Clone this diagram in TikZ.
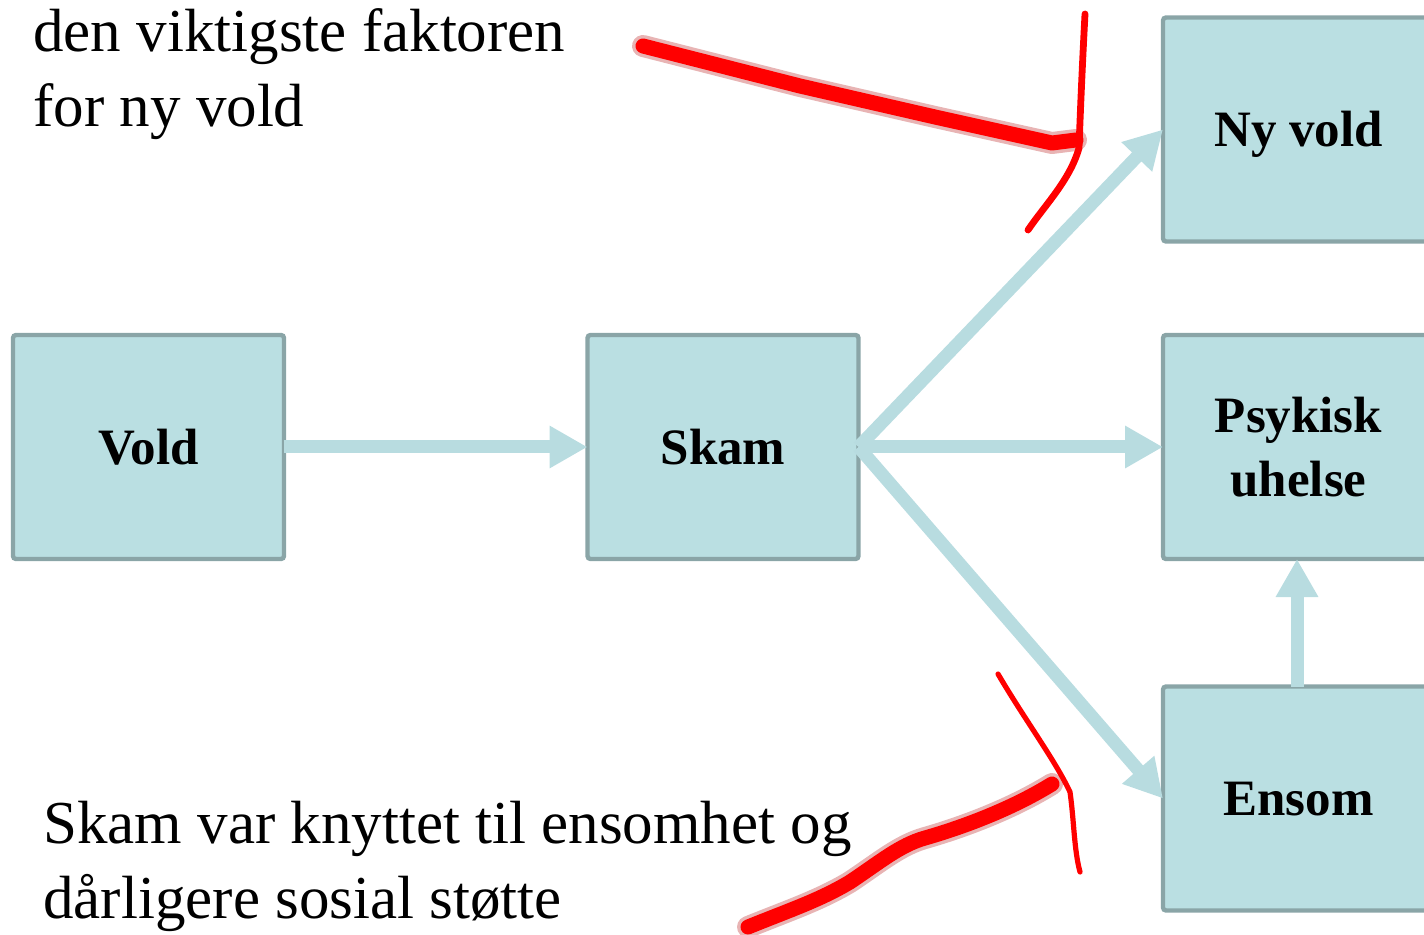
\documentclass[tikz,border=0pt]{standalone}
\usepackage{fontspec}
\setmainfont{Liberation Serif}
\usetikzlibrary{arrows.meta}
\definecolor{boxfill}{HTML}{BADFE2}
\definecolor{boxline}{HTML}{8AA5A7}
\definecolor{arrowc}{HTML}{B8DCE0}
\definecolor{halo}{HTML}{E8B4B4}
\tikzset{
  box/.style={draw=boxline, fill=boxfill, line width=2.2pt, rounded corners=1.5pt,
    minimum width=135.5pt, minimum height=112pt, inner sep=0pt, outer sep=0pt,
    font=\bfseries\fontsize{25.5}{32}\selectfont, align=center, text height=17.3pt, text depth=0pt},
  flow/.style={draw=arrowc, line width=6.5pt, -{Triangle[length=19pt,width=20pt]}},
  caption/.style={anchor=base west, inner sep=0pt, font=\fontsize{30.5}{37.5}\selectfont},
  redthick/.style={draw=red, line width=7.5pt, line cap=round, line join=round},
  redhalo/.style={draw=halo, line width=11pt, line cap=round, line join=round},
  redthin/.style={draw=red, line width=3.4pt, line cap=round, line join=round},
  redthinner/.style={draw=red, line width=2.6pt, line cap=round, line join=round},
}
\begin{document}
\begin{tikzpicture}[x=0.5pt, y=-0.5pt]
\useasboundingbox (0,0) rectangle (1424,935);
\clip (0,0) rectangle (1424,935);
\node[box] (vold) at (148.5,447) {Vold};
\node[box] (skam) at (723,447) {Skam};
\node[box] (nyvold) at (1298.5,129.5) {Ny vold};
\node[box, text height=49.3pt] (psyk) at (1298.5,447) {Psykisk\\uhelse};
\node[box] (ensom) at (1298.5,798.5) {Ensom};
\draw[flow] (vold.east) -- (skam.west);
\draw[flow] (skam.east) -- (nyvold.west);
\draw[flow] (skam.east) -- (psyk.west);
\draw[flow] (skam.east) -- (ensom.west);
\draw[flow] (ensom.north -| 1297,0) -- (psyk.south -| 1297,0);
\node[caption] (t1) at (33,52) {den viktigste faktoren};
\node[caption] (t2) at (33,127) {for ny vold};
\node[caption] (t3) at (43,843) {Skam var knyttet til ensomhet og};
\node[caption] (t4) at (43,918) {dårligere sosial støtte};
% red hand-drawn arrows
\draw[redhalo] (643,46) -- (800,86) -- (935,117) -- (1052,143) -- (1076,140);
\draw[redthick] (643,46) -- (800,86) -- (935,117) -- (1052,143) -- (1076,140);
\draw[redthin] (1085,14) .. controls (1082,70) and (1080,120) .. (1079,148) .. controls (1070,180) and (1045,205) .. (1028,230);
\draw[redhalo] (748,927) .. controls (790,910) and (820,900) .. (850,882) .. controls (880,862) and (900,845) .. (925,838) .. controls (960,828) and (1010,810) .. (1052,784);
\draw[redthick] (748,927) .. controls (790,910) and (820,900) .. (850,882) .. controls (880,862) and (900,845) .. (925,838) .. controls (960,828) and (1010,810) .. (1052,784);
\draw[redthinner] (998,674) .. controls (1025,720) and (1055,760) .. (1070,792) .. controls (1074,820) and (1074,850) .. (1080,872);
\end{tikzpicture}
\end{document}
